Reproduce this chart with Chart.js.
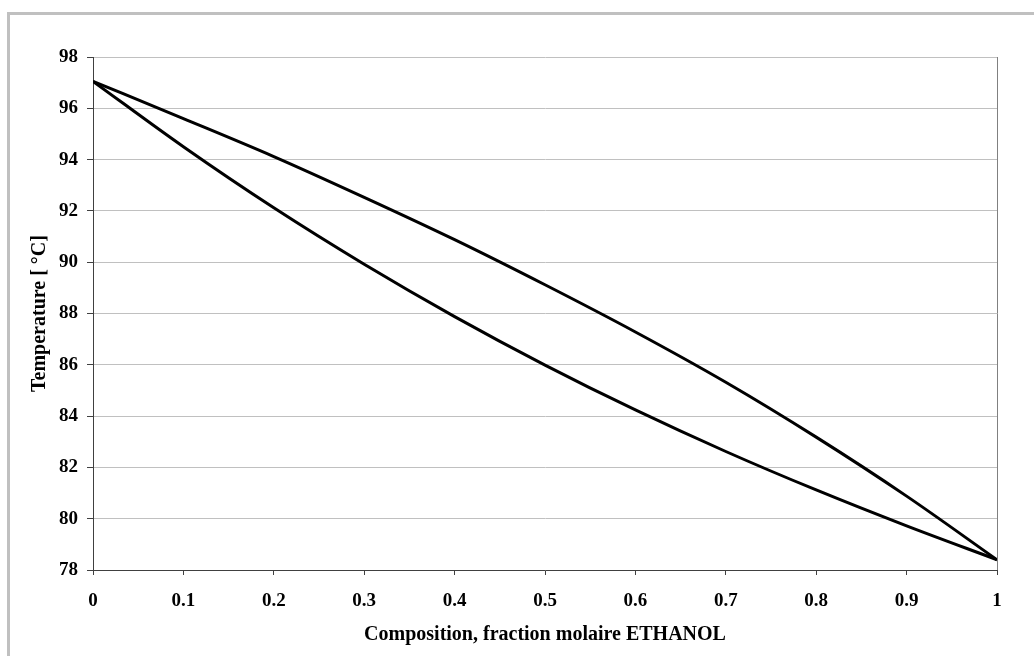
<!DOCTYPE html>
<html>
<head>
<meta charset="utf-8">
<script src="https://cdn.jsdelivr.net/npm/chart.js@4.4.0/dist/chart.umd.min.js"></script>
<style>
  html, body { margin: 0; padding: 0; background: #fff; overflow: hidden; }
  body { width: 1034px; height: 656px; position: relative; }
  .frame {
    position: absolute; left: 7px; top: 12px; right: -20px; bottom: -20px;
    border: 3px solid #c0c0c0;
  }
  #chart { position: absolute; left: 0; top: 0; }
</style>
</head>
<body>
<div class="frame"></div>
<canvas id="chart" width="1034" height="656"></canvas>
<script>
// mole fraction of ethanol
const composition = [0, 0.1, 0.2, 0.3, 0.4, 0.5, 0.6, 0.7, 0.8, 0.9, 1];
// dew curve (vapour) and bubble curve (liquid), in °C
const dewTemp = [97.05, 95.6, 94.12, 92.53, 90.88, 89.12, 87.28, 85.32, 83.18, 80.88, 78.4];
const bubbleTemp = [97.05, 94.5, 92.12, 89.92, 87.88, 85.99, 84.24, 82.62, 81.12, 79.72, 78.4];

const yTicks = { min: 78, max: 98, step: 2 };

const serif = "'Liberation Serif', 'Times New Roman', serif";
const tickFont = { family: serif, size: 19, weight: 'bold' };
const titleFont = { family: serif, size: 20, weight: 'bold' };

const toPoints = ys => composition.map((x, i) => ({ x: x, y: ys[i] }));

new Chart(document.getElementById('chart'), {
  type: 'scatter',
  data: {
    datasets: [
      {
        label: 'dew',
        data: toPoints(dewTemp),
        showLine: true,
        borderColor: '#000',
        borderWidth: 3,
        pointRadius: 0,
        cubicInterpolationMode: 'monotone'
      },
      {
        label: 'bubble',
        data: toPoints(bubbleTemp),
        showLine: true,
        borderColor: '#000',
        borderWidth: 3,
        pointRadius: 0,
        cubicInterpolationMode: 'monotone'
      }
    ]
  },
  options: {
    responsive: false,
    devicePixelRatio: 1,
    animation: false,
    layout: { autoPadding: false, padding: { top: 57, right: 37, left: 0, bottom: 0 } },
    plugins: { legend: { display: false }, tooltip: { enabled: false } },
    scales: {
      x: {
        type: 'linear',
        min: 0,
        max: 1,
        afterFit: s => { s.height = 86; },
        ticks: {
          stepSize: 0.1,
          color: '#000',
          font: tickFont,
          padding: 15,
          maxRotation: 0,
          callback: v => String(+v.toFixed(1))
        },
        grid: {
          color: c => (c.tick && c.tick.value === 1 ? '#808080' : 'rgba(0,0,0,0)'),
          tickColor: '#404040',
          tickLength: 5
        },
        border: { color: '#404040', width: 1 },
        title: {
          display: true,
          text: 'Composition, fraction molaire ETHANOL',
          color: '#000',
          font: titleFont,
          padding: { top: 0, bottom: 9 }
        }
      },
      y: {
        min: yTicks.min,
        max: yTicks.max,
        afterFit: s => { s.width = 93; },
        ticks: {
          stepSize: yTicks.step,
          color: '#000',
          font: tickFont,
          padding: 9
        },
        grid: {
          color: '#c0c0c0',
          tickColor: '#404040',
          tickLength: 6
        },
        border: { color: '#404040', width: 1 },
        title: {
          display: true,
          text: 'Temperature [ °C]',
          color: '#000',
          font: titleFont,
          padding: { top: 28, bottom: 0 }
        }
      }
    }
  }
});
</script>
</body>
</html>
